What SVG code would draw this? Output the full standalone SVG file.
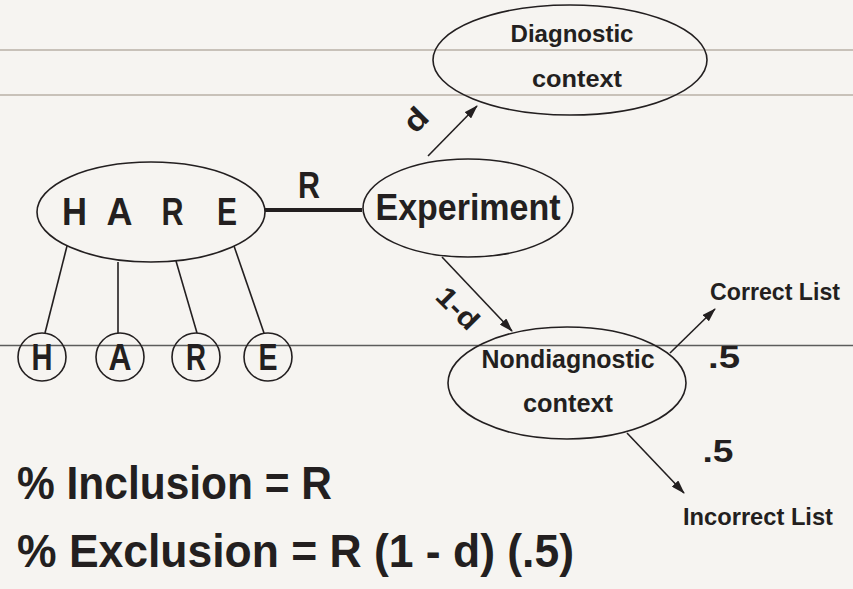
<svg xmlns="http://www.w3.org/2000/svg" width="853" height="589" viewBox="0 0 853 589">
  <style>
    .bg { fill: #f6f4f1; }
    .rule { stroke: #b9b0a6; stroke-width: 1.6; }
    .rule2 { stroke: #5c5c5c; stroke-width: 1.5; }
    .shape { fill: none; stroke: #231f20; stroke-width: 1.6; }
    .edge { stroke: #231f20; stroke-width: 1.6; fill: none; }
    .t { font-family: "Liberation Sans", Arial, sans-serif; font-weight: bold; fill: #231f20; text-anchor: middle; }
    .s { text-anchor: start; }
  </style>
  <defs>
    <marker id="arr" viewBox="0 0 14 9" refX="13" refY="4.5" markerWidth="14" markerHeight="9" markerUnits="userSpaceOnUse" orient="auto">
      <path d="M0,0 L14,4.5 L0,9 Z" fill="#231f20"/>
    </marker>
  </defs>
  <rect class="bg" x="0" y="0" width="853" height="589"/>
  <g id="rules">
    <line class="rule" x1="0" y1="50" x2="853" y2="50"/>
    <line class="rule" x1="0" y1="95" x2="853" y2="95"/>
    <line class="rule2" x1="0" y1="345.5" x2="853" y2="345.5"/>
  </g>

  <g id="connectors">
    <line class="edge" x1="265" y1="210" x2="362" y2="210" style="stroke-width:4"/>
    <line class="edge" x1="428" y1="156" x2="477" y2="106" marker-end="url(#arr)"/>
    <line class="edge" x1="442" y1="257" x2="512" y2="331" marker-end="url(#arr)"/>
    <line class="edge" x1="670" y1="353" x2="715" y2="309" marker-end="url(#arr)"/>
    <line class="edge" x1="627" y1="433" x2="684" y2="493" marker-end="url(#arr)"/>
    <line class="edge" x1="67" y1="246" x2="45" y2="333"/>
    <line class="edge" x1="118" y1="262" x2="118" y2="333"/>
    <line class="edge" x1="176" y1="261" x2="197" y2="333"/>
    <line class="edge" x1="234" y1="246" x2="264" y2="333"/>
    <text class="t" x="0" y="0" font-size="30" textLength="22" lengthAdjust="spacingAndGlyphs" transform="translate(423 127) rotate(-45)">d</text>
    <text class="t" x="0" y="0" font-size="28" textLength="48" lengthAdjust="spacingAndGlyphs" transform="translate(451 315) rotate(45)">1-d</text>
    <text class="t" x="309" y="198" font-size="36" textLength="22" lengthAdjust="spacingAndGlyphs">R</text>
    <text class="t" x="724" y="368" font-size="32" textLength="32" lengthAdjust="spacingAndGlyphs">.5</text>
    <text class="t" x="718" y="462" font-size="32" textLength="31" lengthAdjust="spacingAndGlyphs">.5</text>
  </g>

  <g id="diagnostic">
    <ellipse class="shape" cx="570" cy="60" rx="137" ry="55"/>
    <text class="t" x="572" y="42" font-size="24" textLength="123" lengthAdjust="spacingAndGlyphs">Diagnostic</text>
    <text class="t" x="577" y="87" font-size="24" textLength="90" lengthAdjust="spacingAndGlyphs">context</text>
  </g>

  <g id="hare">
    <ellipse class="shape" cx="151" cy="212" rx="114" ry="50"/>
    <text class="t" x="74.5" y="225" font-size="38" textLength="25" lengthAdjust="spacingAndGlyphs">H</text>
    <text class="t" x="119.5" y="225" font-size="38" textLength="26" lengthAdjust="spacingAndGlyphs">A</text>
    <text class="t" x="172.5" y="225" font-size="38" textLength="22" lengthAdjust="spacingAndGlyphs">R</text>
    <text class="t" x="227" y="225" font-size="38" textLength="20" lengthAdjust="spacingAndGlyphs">E</text>
  </g>

  <g id="experiment">
    <ellipse class="shape" cx="468" cy="208" rx="105" ry="49"/>
    <text class="t" x="468" y="220" font-size="36" textLength="185" lengthAdjust="spacingAndGlyphs">Experiment</text>
  </g>

  <g id="nondiagnostic">
    <ellipse class="shape" cx="567" cy="383" rx="119" ry="56"/>
    <text class="t" x="568" y="368" font-size="25" textLength="173" lengthAdjust="spacingAndGlyphs">Nondiagnostic</text>
    <text class="t" x="568" y="412" font-size="25" textLength="90" lengthAdjust="spacingAndGlyphs">context</text>
  </g>

  <g id="circle-h">
    <circle class="shape" cx="42" cy="357" r="24"/>
    <text class="t" x="42" y="370" font-size="36" textLength="21" lengthAdjust="spacingAndGlyphs">H</text>
  </g>
  <g id="circle-a">
    <circle class="shape" cx="120" cy="357" r="24"/>
    <text class="t" x="120" y="370" font-size="36" textLength="23" lengthAdjust="spacingAndGlyphs">A</text>
  </g>
  <g id="circle-r">
    <circle class="shape" cx="196" cy="357" r="24"/>
    <text class="t" x="196" y="370" font-size="36" textLength="20" lengthAdjust="spacingAndGlyphs">R</text>
  </g>
  <g id="circle-e">
    <circle class="shape" cx="268" cy="357" r="24"/>
    <text class="t" x="268" y="370" font-size="36" textLength="19" lengthAdjust="spacingAndGlyphs">E</text>
  </g>

  <g id="correct-list">
    <text class="t" x="775" y="300" font-size="24" textLength="130" lengthAdjust="spacingAndGlyphs">Correct List</text>
  </g>
  <g id="incorrect-list">
    <text class="t" x="758" y="525" font-size="24" textLength="150" lengthAdjust="spacingAndGlyphs">Incorrect List</text>
  </g>

  <g id="formulas">
    <text class="t s" x="17" y="499" font-size="46" textLength="315" lengthAdjust="spacingAndGlyphs">% Inclusion = R</text>
    <text class="t s" x="17" y="567" font-size="46" textLength="557" lengthAdjust="spacingAndGlyphs">% Exclusion = R (1 - d) (.5)</text>
  </g>
</svg>
